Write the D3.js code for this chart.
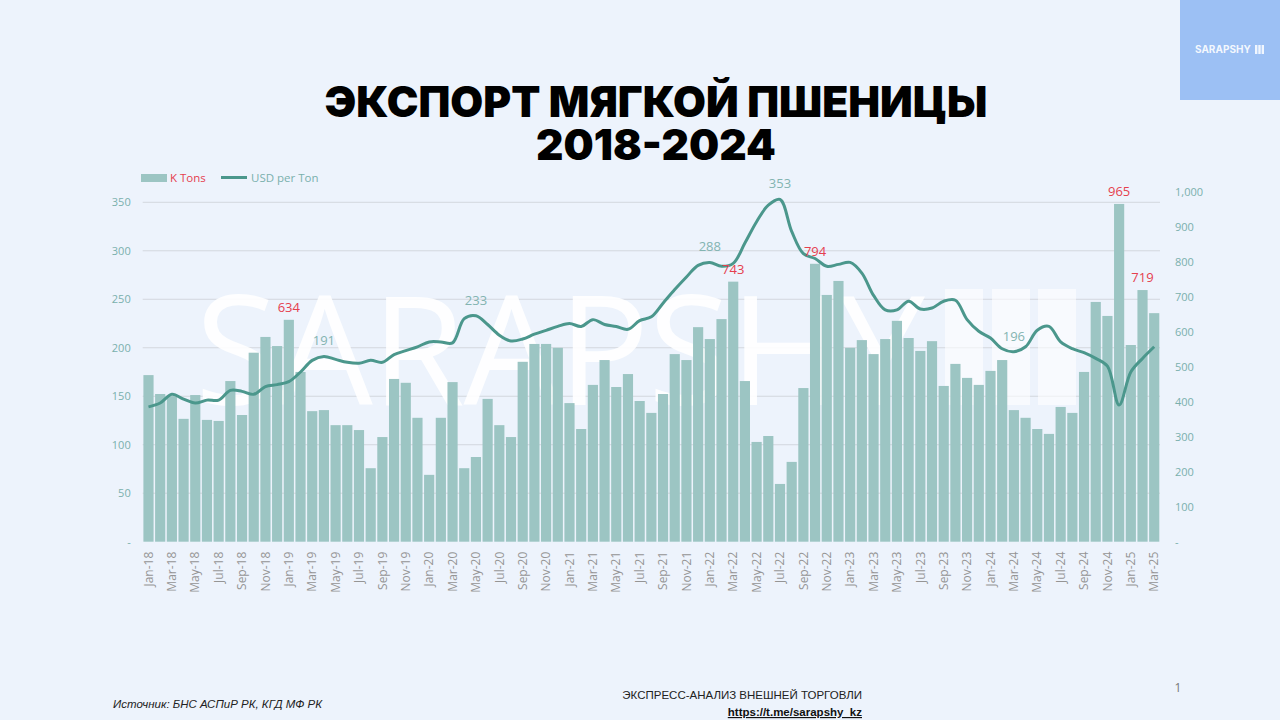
<!DOCTYPE html>
<html>
<head>
<meta charset="utf-8">
<script src="https://cdn.jsdelivr.net/npm/d3@7"></script>
<style>
  html, body { margin: 0; padding: 0; background: #edf3fc; }
  svg { display: block; }
</style>
</head>
<body>
<script>
// months, every bar is one month
const months = [
  "Jan-18","Feb-18","Mar-18","Apr-18","May-18","Jun-18","Jul-18","Aug-18","Sep-18","Oct-18","Nov-18","Dec-18",
  "Jan-19","Feb-19","Mar-19","Apr-19","May-19","Jun-19","Jul-19","Aug-19","Sep-19","Oct-19","Nov-19","Dec-19",
  "Jan-20","Feb-20","Mar-20","Apr-20","May-20","Jun-20","Jul-20","Aug-20","Sep-20","Oct-20","Nov-20","Dec-20",
  "Jan-21","Feb-21","Mar-21","Apr-21","May-21","Jun-21","Jul-21","Aug-21","Sep-21","Oct-21","Nov-21","Dec-21",
  "Jan-22","Feb-22","Mar-22","Apr-22","May-22","Jun-22","Jul-22","Aug-22","Sep-22","Oct-22","Nov-22","Dec-22",
  "Jan-23","Feb-23","Mar-23","Apr-23","May-23","Jun-23","Jul-23","Aug-23","Sep-23","Oct-23","Nov-23","Dec-23",
  "Jan-24","Feb-24","Mar-24","Apr-24","May-24","Jun-24","Jul-24","Aug-24","Sep-24","Oct-24","Nov-24","Dec-24",
  "Jan-25","Feb-25","Mar-25"
]

// K Tons (right axis)
const kTons = [
  476,422,416,351,419,348,345,459,362,540,585,559,
  634,485,373,376,333,333,319,210,299,465,454,354,
  191,354,456,210,242,408,333,299,514,565,565,554,
  396,322,448,519,442,479,402,368,422,536,519,613,
  579,636,743,459,285,302,165,228,439,794,705,745,
  554,576,536,579,631,582,545,573,445,508,468,448,
  488,519,376,354,322,308,385,368,485,685,645,965,
  562,719,653
]

// USD per Ton (left axis)
const usdPerTon = [
  139,143,152,147,143,146,146,156,155,152,160,162,
  165,175,187,191,188,185,184,187,185,193,197,201,
  206,206,205,230,233,224,213,207,209,214,218,222,
  225,222,229,224,222,219,228,232,246,260,273,285,
  288,284,287,308,330,347,353,320,297,292,284,286,
  288,277,254,239,239,248,240,241,248,249,229,217,
  210,199,196,201,218,222,206,199,195,189,181,141,
  175,189,201
]

const barLabelIdx = [12, 50, 57, 83, 85]
const lineLabelIdx = [15, 28, 48, 54, 74]

const leftTicks = [0, 50, 100, 150, 200, 250, 300, 350]
const rightTicks = [0, 100, 200, 300, 400, 500, 600, 700, 800, 900, 1000]

const W = 1280, H = 720
const barColor = "#9cc5c3"
const lineColor = "#4b978c"
const red = "#e5404e"
const axisColor = "#7ab0ad"

const svg = d3.select("body").append("svg")
  .attr("width", W).attr("height", H)

svg.append("rect").attr("width", W).attr("height", H).attr("fill", "#edf3fc")

// logo box top right
svg.append("rect").attr("x", 1180).attr("y", 0).attr("width", 100).attr("height", 100)
  .attr("fill", "#9cc0f4")
svg.append("text").attr("x", 1195).attr("y", 53)
  .attr("font-family", "Inter").attr("font-weight", 700).attr("font-size", 10)
  .attr("fill", "#ffffff").attr("fill-opacity", 0.9).text("SARAPSHY")
;[0, 1, 2].forEach(k => {
  svg.append("rect").attr("x", 1255 + k * 3.3).attr("y", 45).attr("width", 2.4).attr("height", 9)
    .attr("fill", "#ffffff").attr("fill-opacity", 0.85)
})

// title
svg.append("text").attr("x", 656).attr("y", 117).attr("text-anchor", "middle")
  .attr("font-family", "Inter").attr("font-weight", 900).attr("font-size", 42.5)
  .attr("fill", "#000").text("ЭКСПОРТ МЯГКОЙ ПШЕНИЦЫ")
svg.append("text").attr("x", 656).attr("y", 160).attr("text-anchor", "middle")
  .attr("font-family", "Inter").attr("font-weight", 900).attr("font-size", 42.5)
  .attr("fill", "#000").text("2018-2024")

// scales
const x = d3.scaleBand().domain(months).range([142.7, 1160]).paddingInner(0.13).paddingOuter(0.06)
const yL = d3.scaleLinear().domain([0, 360]).range([541.7, 192.6])
const yR = d3.scaleLinear().domain([0, 1000]).range([541.7, 191.7])

// gridlines
svg.append("g").selectAll("line").data(leftTicks.filter(d => d > 0)).enter()
  .append("line")
  .attr("x1", 142.7).attr("x2", 1160)
  .attr("y1", d => yL(d)).attr("y2", d => yL(d))
  .attr("stroke", "#d3d7de").attr("stroke-width", 1)

// watermark
svg.append("text").attr("x", 195).attr("y", 405)
  .attr("font-family", "Open Sans").attr("font-weight", 400).attr("font-size", 152)
  .attr("textLength", 730).attr("lengthAdjust", "spacing")
  .attr("fill", "#ffffff").attr("fill-opacity", 0.9).text("SARAPSHY")
;[945, 992, 1038].forEach(bx => {
  svg.append("rect").attr("x", bx).attr("y", 289).attr("width", 38).attr("height", 116)
    .attr("fill", "#ffffff").attr("fill-opacity", 0.6)
})

// bars
svg.append("g").selectAll("rect").data(kTons).enter()
  .append("rect")
  .attr("x", (d, i) => x(months[i]))
  .attr("width", x.bandwidth())
  .attr("y", d => yR(d))
  .attr("height", d => yR(0) - yR(d))
  .attr("fill", barColor)

// line
const line = d3.line()
  .x((d, i) => x(months[i]) + x.bandwidth() / 2)
  .y(d => yL(d))
  .curve(d3.curveCatmullRom.alpha(0.5))
svg.append("path").datum(usdPerTon)
  .attr("d", line)
  .attr("fill", "none").attr("stroke", lineColor).attr("stroke-width", 3)
  .attr("stroke-linejoin", "round")

// data labels
svg.append("g").selectAll("text").data(barLabelIdx).enter()
  .append("text")
  .attr("x", i => x(months[i]) + x.bandwidth() / 2)
  .attr("y", i => yR(kTons[i]) - 8)
  .attr("text-anchor", "middle")
  .attr("font-family", "Open Sans").attr("font-size", 13)
  .attr("fill", red)
  .text(i => kTons[i])

svg.append("g").selectAll("text").data(lineLabelIdx).enter()
  .append("text")
  .attr("x", i => x(months[i]) + x.bandwidth() / 2)
  .attr("y", i => yL(usdPerTon[i]) - 11)
  .attr("text-anchor", "middle")
  .attr("font-family", "Open Sans").attr("font-size", 13)
  .attr("fill", "#83b4b1")
  .text(i => usdPerTon[i])

// axes
const leftAxis = svg.append("g").attr("transform", "translate(142.7,0)")
  .call(d3.axisLeft(yL).tickValues(leftTicks).tickSize(0).tickPadding(12)
    .tickFormat(d => d === 0 ? "-" : d))
leftAxis.select(".domain").remove()
leftAxis.selectAll("text").attr("font-family", "Open Sans").attr("font-size", 11).attr("fill", axisColor)

const rightAxis = svg.append("g").attr("transform", "translate(1160,0)")
  .call(d3.axisRight(yR).tickValues(rightTicks).tickSize(0).tickPadding(15)
    .tickFormat(d => d === 0 ? "-" : d3.format(",")(d)))
rightAxis.select(".domain").remove()
rightAxis.selectAll("text").attr("font-family", "Open Sans").attr("font-size", 11).attr("fill", axisColor)

const bottomAxis = svg.append("g").attr("transform", "translate(0,541.7)")
  .call(d3.axisBottom(x).tickValues(months.filter((m, i) => i % 2 === 0)).tickSize(0).tickPadding(0))
bottomAxis.select(".domain").remove()
bottomAxis.selectAll("text")
  .attr("font-family", "Open Sans").attr("font-size", 12).attr("fill", "#959595")
  .attr("text-anchor", "end")
  .attr("dy", "0.35em")
  .attr("transform", "translate(0,10) rotate(-90)")
  .attr("x", 0).attr("y", 0)

// legend
svg.append("rect").attr("x", 141).attr("y", 174).attr("width", 26).attr("height", 8).attr("fill", barColor)
svg.append("text").attr("x", 170).attr("y", 182)
  .attr("font-family", "Open Sans").attr("font-size", 11.5).attr("fill", red).text("K Tons")
svg.append("line").attr("x1", 221).attr("x2", 247).attr("y1", 177.5).attr("y2", 177.5)
  .attr("stroke", lineColor).attr("stroke-width", 3)
svg.append("text").attr("x", 251).attr("y", 182)
  .attr("font-family", "Open Sans").attr("font-size", 11.5).attr("fill", axisColor).text("USD per Ton")

// footer
svg.append("text").attr("x", 113).attr("y", 708)
  .attr("font-family", "Liberation Sans Narrow, Liberation Sans").attr("font-style", "italic")
  .attr("font-size", 11.5).attr("fill", "#222").text("Источник: БНС АСПиР РК, КГД МФ РК")
svg.append("text").attr("x", 862).attr("y", 699).attr("text-anchor", "end")
  .attr("font-family", "Liberation Sans Narrow, Liberation Sans")
  .attr("font-size", 11.5).attr("fill", "#222").text("ЭКСПРЕСС-АНАЛИЗ ВНЕШНЕЙ ТОРГОВЛИ")
svg.append("text").attr("x", 862).attr("y", 716).attr("text-anchor", "end")
  .attr("font-family", "Liberation Sans Narrow, Liberation Sans").attr("font-weight", 700)
  .attr("text-decoration", "underline")
  .attr("font-size", 11.5).attr("fill", "#111").text("https://t.me/sarapshy_kz")
svg.append("text").attr("x", 1178).attr("y", 692).attr("text-anchor", "middle")
  .attr("font-family", "Open Sans").attr("font-size", 12).attr("fill", "#777").text("1")
</script>
</body>
</html>
